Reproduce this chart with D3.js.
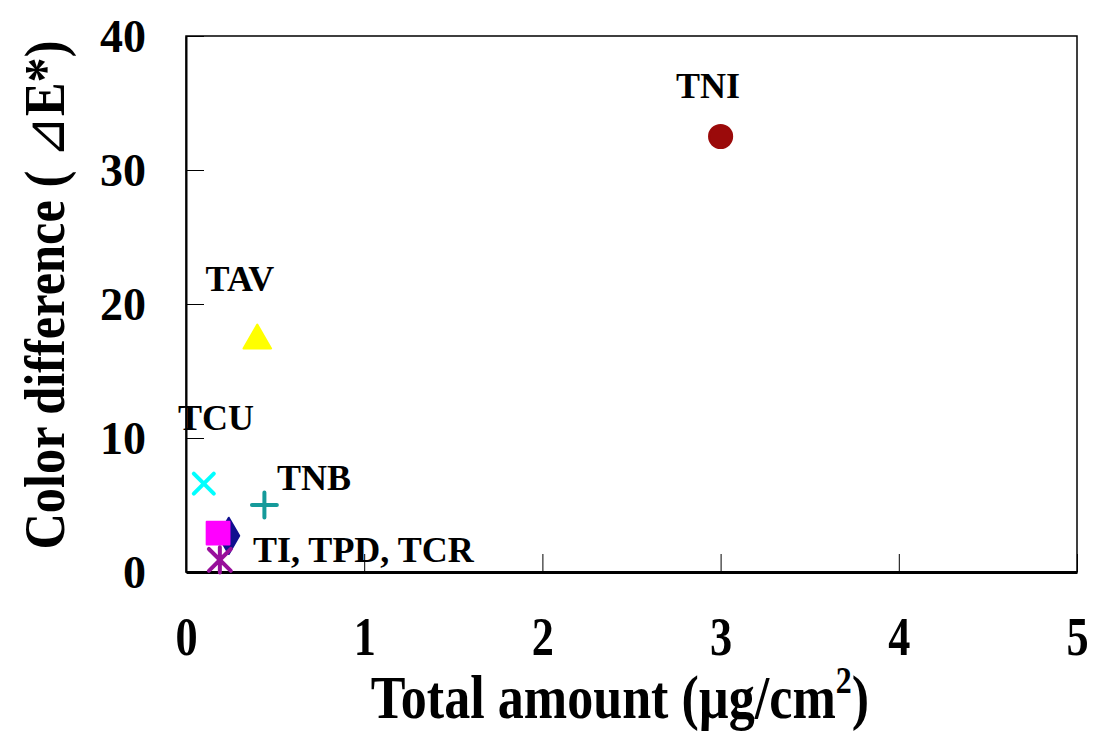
<!DOCTYPE html>
<html>
<head>
<meta charset="utf-8">
<script src="https://cdn.jsdelivr.net/npm/d3@7"></script>
<style>
  body { margin: 0; background: #fff; }
  text { font-family: "Liberation Serif", "Times New Roman", serif; font-weight: bold; }
</style>
</head>
<body>
<div class="chart"></div>
<script>
// data
var names = ["TNI", "TAV", "TCU", "TNB", "TI", "TPD", "TCR"];
var amount = [3.0, 0.40, 0.10, 0.44, 0.24, 0.18, 0.19];
var colorDiff = [32.5, 17.5, 6.6, 5.0, 2.7, 2.9, 0.9];
var shapes = ["circle", "triangle", "cross", "plus", "diamond", "square", "star"];
var colors = ["#9b0a0a", "#ffff00", "#00ffff", "#159a9a", "#10108f", "#ff00ff", "#98109b"];

var xTicks = [0, 1, 2, 3, 4, 5];
var yTicks = [0, 10, 20, 30, 40];

// label text with the start of its baseline in data units
var labels = ["TNI", "TAV", "TCU", "TNB", "TI, TPD, TCR"];
var labelX = [2.75, 0.11, -0.045, 0.51, 0.376];
var labelY = [35.4, 21.0, 10.6, 6.1, 0.75];

var width = 1095, height = 733;
var margin = {top: 36, right: 18, bottom: 161, left: 186};

var svg = d3.select(".chart").append("svg")
    .attr("width", width)
    .attr("height", height);

var x = d3.scaleLinear().domain([0, 5]).range([margin.left, width - margin.right]);
var y = d3.scaleLinear().domain([0, 40]).range([height - margin.bottom, margin.top]);

// frame
svg.append("rect")
    .attr("x", x(0)).attr("y", y(40))
    .attr("width", x(5) - x(0)).attr("height", y(0) - y(40))
    .attr("fill", "none").attr("stroke", "#000").attr("stroke-width", 1.5);

var xAxis = svg.append("g")
    .attr("transform", "translate(0," + y(0) + ")")
    .call(d3.axisBottom(x).tickValues(xTicks).tickSizeInner(-18).tickSizeOuter(0).tickFormat(d3.format("d")));
xAxis.select(".domain").attr("stroke-width", 3);
xAxis.selectAll(".tick line").attr("stroke-width", 1);
xAxis.selectAll(".tick text")
    .attr("y", 0).attr("dy", 0)
    .attr("transform", "translate(0,83) scale(0.82,1)")
    .attr("font-size", 54)
    .attr("fill", "#000");

var yAxis = svg.append("g")
    .attr("transform", "translate(" + x(0) + ",0)")
    .call(d3.axisLeft(y).tickValues(yTicks).tickSizeInner(-18).tickSizeOuter(0).tickPadding(40).tickFormat(d3.format("d")));
yAxis.select(".domain").attr("stroke-width", 2);
yAxis.selectAll(".tick line").attr("stroke-width", 1);
yAxis.selectAll(".tick text")
    .attr("font-size", 46)
    .attr("dy", "0.34em")
    .attr("fill", "#000");

// axis titles
var xt = svg.append("text")
    .attr("transform", "translate(620,718) scale(0.84,1)")
    .attr("text-anchor", "middle")
    .attr("font-size", 62);
xt.append("tspan").text("Total amount (µg/cm");
xt.append("tspan").attr("dy", -25).attr("font-size", 38).text("2");
xt.append("tspan").attr("dy", 25).text(")");

var yt = svg.append("text")
    .attr("transform", "translate(64,295) rotate(-90) scale(0.9,1)")
    .attr("text-anchor", "middle")
    .attr("font-size", 56);
yt.append("tspan").text("Color difference ( ");
yt.append("tspan").attr("font-family", "DejaVu Sans").attr("font-weight", "normal").text("⊿");
yt.append("tspan").text("E*)");

// custom symbols
var crossX = {
  draw: function(ctx, size) {
    var r = Math.sqrt(size) / 2;
    ctx.moveTo(-r, -r); ctx.lineTo(r, r);
    ctx.moveTo(r, -r); ctx.lineTo(-r, r);
  }
};
var plus = {
  draw: function(ctx, size) {
    var r = Math.sqrt(size) / 2;
    ctx.moveTo(-r, 0); ctx.lineTo(r, 0);
    ctx.moveTo(0, -r); ctx.lineTo(0, r);
  }
};
var asterisk = {
  draw: function(ctx, size) {
    var r = Math.sqrt(size) / 2;
    ctx.moveTo(-r, -r); ctx.lineTo(r, r);
    ctx.moveTo(r, -r); ctx.lineTo(-r, r);
    ctx.moveTo(0, -r * 1.15); ctx.lineTo(0, r * 1.15);
  }
};

var symbolSpec = {
  circle:   {type: d3.symbolCircle, size: 420, filled: true},
  triangle: {type: d3.symbolTriangle, size: 330, filled: true},
  cross:    {type: crossX, size: 400, filled: false},
  plus:     {type: plus, size: 620, filled: false},
  diamond:  {type: d3.symbolDiamond, size: 380, filled: true},
  square:   {type: d3.symbolSquare, size: 520, filled: true},
  star:     {type: asterisk, size: 480, filled: false}
};

var order = [4, 5, 6, 3, 2, 1, 0];
svg.append("g").selectAll("path")
    .data(order)
    .enter()
    .append("path")
    .attr("transform", function(i) {
      var t = "translate(" + x(amount[i]) + "," + y(colorDiff[i]) + ")";
      if (shapes[i] == "triangle") t += " translate(0,3)";
      return t;
    })
    .attr("d", function(i) {
      var s = symbolSpec[shapes[i]];
      return d3.symbol().type(s.type).size(s.size)();
    })
    .attr("fill", function(i) { return symbolSpec[shapes[i]].filled ? colors[i] : "none"; })
    .attr("stroke", function(i) { return colors[i]; })
    .attr("stroke-width", function(i) { return symbolSpec[shapes[i]].filled ? 2 : 4; })
    .attr("stroke-linejoin", "round")
    .attr("stroke-linecap", "round");

svg.append("g").selectAll("text")
    .data(labels)
    .enter()
    .append("text")
    .attr("x", function(d, i) { return x(labelX[i]); })
    .attr("y", function(d, i) { return y(labelY[i]); })
    .attr("font-size", 36)
    .attr("fill", "#000")
    .text(function(d) { return d; });
</script>
</body>
</html>
